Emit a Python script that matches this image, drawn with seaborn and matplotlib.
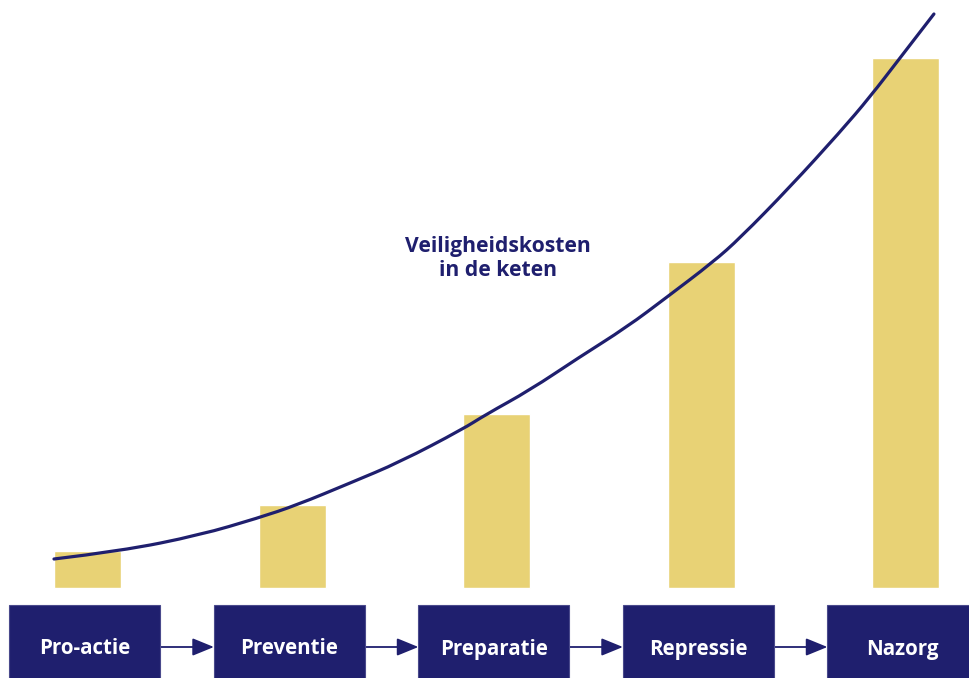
import matplotlib
matplotlib.use("Agg")
import matplotlib.pyplot as plt
from matplotlib.patches import Rectangle, PathPatch
from matplotlib.path import Path
import seaborn as sns
import pandas as pd

# Phases of the safety chain and the relative cost per phase
phases = ["Pro-actie", "Preventie", "Preparatie", "Repressie", "Nazorg"]
costs = [3.7, 8.3, 17.4, 32.6, 53.0]

# Cost curve through the chain (x in phase positions, y in cost units)
curve_x = [-0.164, 0.164, 0.550, 0.834, 1.024, 1.284, 1.528, 1.836, 1.944, 2.164,
           2.399, 2.638, 2.834, 3.059, 3.191, 3.435, 3.680, 3.826, 3.973, 4.139]
curve_y = [2.9, 3.7, 5.3, 7.0, 8.3, 10.5, 12.6, 15.9, 17.3, 19.8,
           23.0, 26.1, 29.1, 32.6, 35.0, 40.1, 45.6, 49.1, 53.0, 57.4]

curve_label = "Veiligheidskosten\nin de keten"

NAVY = "#1f1f6e"
YELLOW = "#e8d275"

sns.set_theme(style="white")
plt.rcParams["font.family"] = ["Open Sans", "DejaVu Sans"]

fig = plt.figure(figsize=(9.69, 6.78), dpi=100)
ax = fig.add_axes([0, 0, 1, 1])

bars = pd.DataFrame({"fase": phases, "kosten": costs})
sns.barplot(data=bars, x="fase", y="kosten", order=phases, color=YELLOW,
            saturation=1, width=0.3276, ax=ax)

# Smooth the cost curve: quadratic segments between midpoints of the read points
pts = list(zip(curve_x, curve_y))
verts = [pts[0]]
codes = [Path.MOVETO]
for k in range(1, len(pts) - 1):
    mid = ((pts[k][0] + pts[k + 1][0]) / 2, (pts[k][1] + pts[k + 1][1]) / 2)
    verts += [pts[k], mid]
    codes += [Path.CURVE3, Path.CURVE3]
verts.append(pts[-1])
codes.append(Path.LINETO)
ax.add_patch(PathPatch(Path(verts, codes), facecolor="none", edgecolor=NAVY,
                       linewidth=2.3, capstyle="round", zorder=2.5))

ax.text(2.007, 32.95, curve_label, ha="center", va="center", color=NAVY,
        fontsize=15.2, fontweight="bold", linespacing=1.22)

# Phase boxes along the bottom, linked by arrows
box_w = 0.738
box_top = -1.7
arrow_y = -5.9
for i, name in enumerate(phases):
    cx = i - 0.013
    ax.add_patch(Rectangle((cx - box_w / 2, box_top - 10), box_w, 10,
                           facecolor=NAVY, edgecolor="#4a4a8c", linewidth=0.8,
                           zorder=3))
    ax.text(cx, arrow_y - 0.2, name, ha="center", va="center", color="white",
            fontsize=14.8, fontweight="bold", zorder=4)
    if i < len(phases) - 1:
        ax.annotate("", xy=(cx + 1 - box_w / 2, arrow_y),
                    xytext=(cx + box_w / 2, arrow_y),
                    arrowprops=dict(arrowstyle="-|>,head_length=1.1,head_width=0.45",
                                    color=NAVY, linewidth=1.3,
                                    shrinkA=0, shrinkB=0),
                    zorder=2)

ax.set_xlim(-0.428, 4.3105)
ax.set_ylim(-9.0, 58.8)
ax.set_xlabel("")
ax.set_ylabel("")
ax.axis("off")

fig.savefig("out.png", dpi=100, facecolor="white")
